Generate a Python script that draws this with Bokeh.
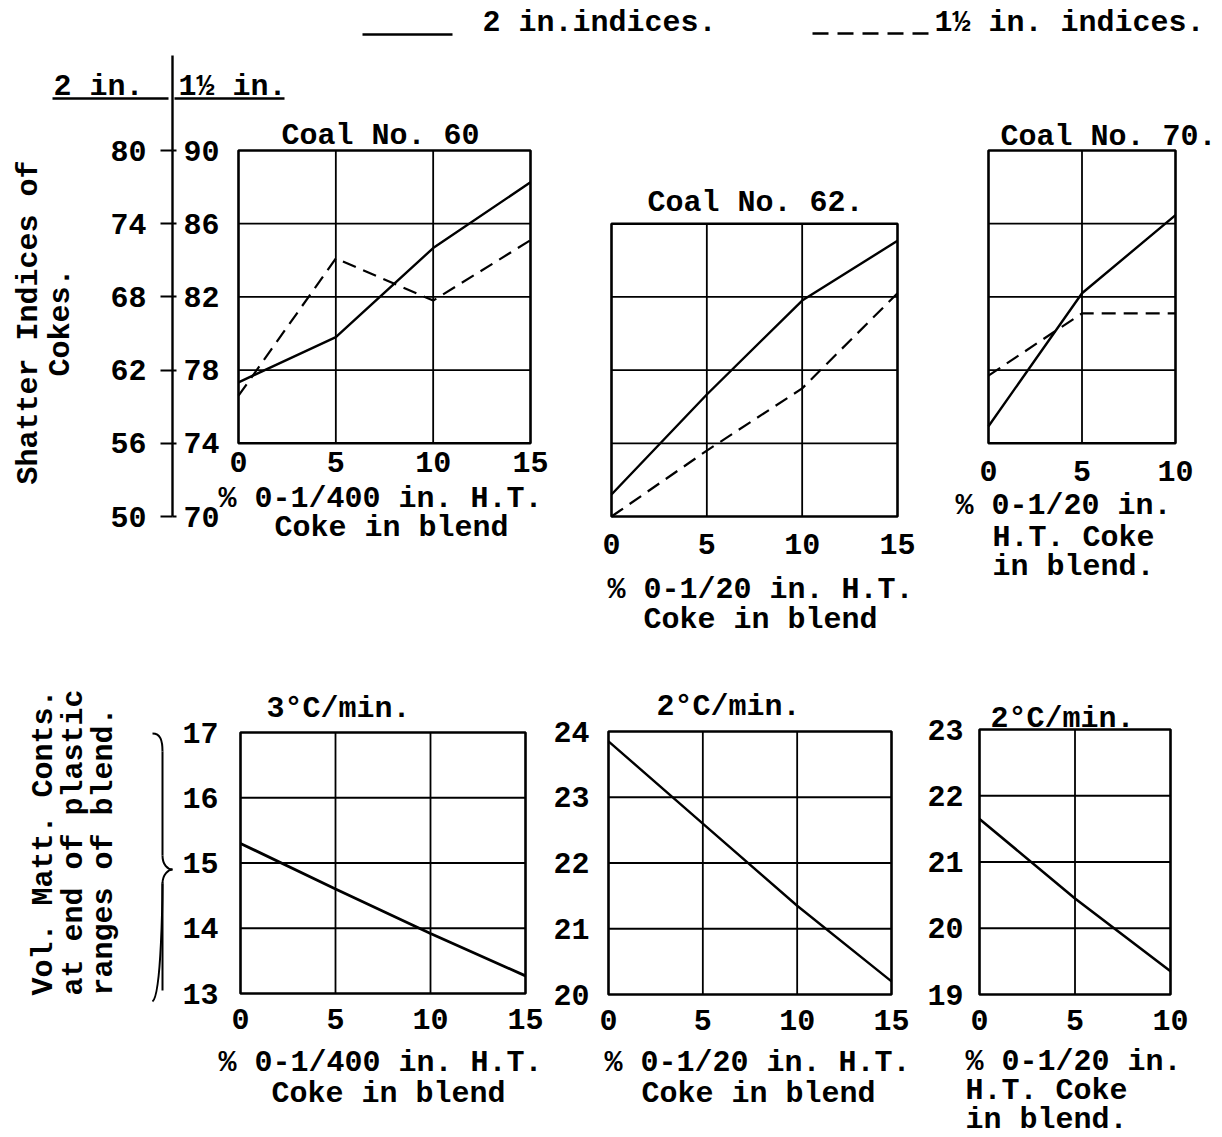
import math

from bokeh.embed import file_html
from bokeh.models import FixedTicker, Label, LinearAxis, Range1d
from bokeh.plotting import figure
from bokeh.resources import INLINE

# ---------------------------------------------------------------- data
# Shatter indices (2 in. and 1 1/2 in.) against % H.T. coke in the blend
coke_pct_60 = [0, 5, 10, 15]
shatter_2in_60 = [61.0, 64.7, 72.0, 77.4]
shatter_15in_60 = [76.6, 84.1, 81.8, 85.1]

coke_pct_62 = [0, 5, 10, 15]
shatter_2in_62 = [51.8, 60.0, 67.7, 72.6]
shatter_15in_62 = [70.0, 73.6, 77.0, 82.2]

coke_pct_70 = [0, 5, 10]
shatter_2in_70 = [57.4, 68.3, 74.7]
shatter_15in_70 = [77.7, 81.1, 81.1]

# Volatile matter contents at the end of the plastic range
vm_pct_60 = [0, 5, 10, 15]
vm_3deg_60 = [15.3, 14.6, 13.92, 13.27]

vm_pct_62 = [0, 5, 10, 15]
vm_2deg_62 = [23.85, 22.6, 21.35, 20.2]

vm_pct_70 = [0, 5, 10]
vm_2deg_70 = [21.65, 20.45, 19.35]

# ticks
ticks_2in = [50, 56, 62, 68, 74, 80]
ticks_15in = [70, 74, 78, 82, 86, 90]
pct_ticks_15 = [0, 5, 10, 15]
pct_ticks_10 = [0, 5, 10]
vm_ticks_60 = [13, 14, 15, 16, 17]
vm_ticks_62 = [20, 21, 22, 23, 24]
vm_ticks_70 = [19, 20, 21, 22, 23]

# ---------------------------------------------------------------- page
W, H = 1222, 1137
FONT = "Liberation Mono"
FS = "30px"
INK = "black"


def x_map(lo, hi, left, right):
    """Range whose [lo, hi] lands on page pixels [left, right]."""
    k = (hi - lo) / (right - left)
    return Range1d(lo - left * k, lo + (W - left) * k)


def y_map(lo, hi, top, bottom):
    """Range whose [lo, hi] lands on page pixels [bottom, top]."""
    k = (hi - lo) / (bottom - top)
    return Range1d(lo - (H - bottom) * k, hi + top * k)


p = figure(width=W, height=H, x_range=Range1d(0, W), y_range=Range1d(H, 0),
           x_axis_location=None, y_axis_location=None, toolbar_location=None,
           output_backend="svg", min_border=0, outline_line_color=None)
p.xgrid.visible = False
p.ygrid.visible = False
p.background_fill_color = "white"
p.border_fill_color = "white"

p.extra_x_ranges = {
    "c60": x_map(0, 15, 238, 530),
    "c62": x_map(0, 15, 611, 897),
    "c70": x_map(0, 10, 988, 1175),
    "v60": x_map(0, 15, 240, 525),
    "v62": x_map(0, 15, 608, 891),
    "v70": x_map(0, 10, 979, 1170),
}
p.extra_y_ranges = {
    "s2": y_map(50, 80, 150, 516),
    "s15": y_map(70, 90, 150, 516),
    "v60": y_map(13, 17, 732, 993),
    "v62": y_map(20, 24, 731, 994),
    "v70": y_map(19, 23, 729, 994),
}


def text(x, y, s, align="left", baseline="middle", angle=0.0, style="bold", size=FS):
    p.add_layout(Label(x=x, y=y, text=s, text_font=FONT, text_font_size=size,
                       text_font_style=style, text_color=INK, text_align=align,
                       text_baseline=baseline, angle=angle))


def axis_style(ax, standoff):
    ax.axis_line_color = None
    ax.major_tick_line_color = None
    ax.minor_tick_line_color = None
    ax.major_label_standoff = standoff
    ax.major_label_text_font = FONT
    ax.major_label_text_font_size = FS
    ax.major_label_text_font_style = "bold"
    ax.major_label_text_color = INK


def panel(xr, yr, x_lo, x_hi, y_lo, y_hi, x_grid, y_grid, x_ticks, x_standoff,
          y_ticks=None, y_standoff=0):
    kw = dict(x_range_name=xr, y_range_name=yr)
    # grid lines inside the box
    p.segment(x0=x_grid, x1=x_grid, y0=[y_lo] * len(x_grid), y1=[y_hi] * len(x_grid),
              line_color=INK, line_width=1.8, **kw)
    p.segment(x0=[x_lo] * len(y_grid), x1=[x_hi] * len(y_grid), y0=y_grid, y1=y_grid,
              line_color=INK, line_width=1.8, **kw)
    # frame of the panel
    p.quad(left=x_lo, right=x_hi, bottom=y_lo, top=y_hi, fill_color=None,
           line_color=INK, line_width=2.6, **kw)
    xa = LinearAxis(ticker=FixedTicker(ticks=x_ticks), fixed_location=y_lo,
                    bounds=(x_lo, x_hi), **kw)
    axis_style(xa, x_standoff)
    p.add_layout(xa, "below")
    if y_ticks is not None:
        ya = LinearAxis(ticker=FixedTicker(ticks=y_ticks), fixed_location=x_lo,
                        bounds=(y_lo, y_hi), **kw)
        axis_style(ya, y_standoff)
        p.add_layout(ya, "left")


DASH = "14 8"

# ---------------------------------------------------------------- key
p.segment(x0=[362], y0=[34], x1=[452], y1=[34], line_color=INK, line_width=2.6)
text(482, 22, "2 in.indices.")
p.segment(x0=[812], y0=[33], x1=[930], y1=[33], line_color=INK, line_width=2.6,
          line_dash="16 9")
text(934, 22, "1\u00bd in. indices.")

# ---------------------------------------------------------------- shared scale
text(98, 86, "2 in.", align="center")
text(178, 86, "1\u00bd in.")
p.segment(x0=[52, 174], y0=[98, 98], x1=[168, 284], y1=[98, 98],
          line_color=INK, line_width=2.4)
p.segment(x0=[172], y0=[55], x1=[172], y1=[150], line_color=INK, line_width=2.4)

ax2 = LinearAxis(y_range_name="s2", ticker=FixedTicker(ticks=ticks_2in),
                 fixed_location=172, bounds=(ticks_2in[0], ticks_2in[-1]))
axis_style(ax2, 14)
ax2.axis_line_color = INK
ax2.axis_line_width = 2.4
ax2.major_tick_line_color = INK
ax2.major_tick_line_width = 2.0
ax2.major_tick_out = 12
ax2.major_tick_in = 0
p.add_layout(ax2, "left")

ax15 = LinearAxis(y_range_name="s15", ticker=FixedTicker(ticks=ticks_15in),
                  fixed_location=172, bounds=(ticks_15in[0], ticks_15in[-1]))
axis_style(ax15, 7)
ax15.major_tick_line_color = INK
ax15.major_tick_line_width = 2.0
ax15.major_tick_out = 4
ax15.major_tick_in = 0
p.add_layout(ax15, "right")

text(28, 322, "Shatter Indices of", align="center", baseline="alphabetic",
     angle=math.pi / 2)
text(60, 322, "Cokes.", align="center", baseline="alphabetic",
     angle=math.pi / 2)

# ---------------------------------------------------------------- Coal No. 60
panel("c60", "s2", 0, 15, ticks_2in[1], ticks_2in[-1], [5, 10], ticks_2in[2:5],
      pct_ticks_15, 3)
p.line(coke_pct_60, shatter_2in_60, x_range_name="c60", y_range_name="s2",
       line_color=INK, line_width=2.4)
p.line(coke_pct_60, shatter_15in_60, x_range_name="c60", y_range_name="s15",
       line_color=INK, line_width=2.2, line_dash=DASH)
text(380, 135, "Coal No. 60", align="center")
text(218, 498, "% 0-1/400 in. H.T.")
text(391, 527, "Coke in blend", align="center")

# ---------------------------------------------------------------- Coal No. 62
panel("c62", "s2", 0, 15, ticks_2in[0], ticks_2in[4], [5, 10], ticks_2in[1:4],
      pct_ticks_15, 11)
p.line(coke_pct_62, shatter_2in_62, x_range_name="c62", y_range_name="s2",
       line_color=INK, line_width=2.4)
p.line(coke_pct_62, shatter_15in_62, x_range_name="c62", y_range_name="s15",
       line_color=INK, line_width=2.2, line_dash=DASH)
text(755, 202, "Coal No. 62.", align="center")
text(760, 589, "% 0-1/20 in. H.T.", align="center")
text(760, 619, "Coke in blend", align="center")

# ---------------------------------------------------------------- Coal No. 70
panel("c70", "s2", 0, 10, ticks_2in[1], ticks_2in[-1], [5], ticks_2in[2:5],
      pct_ticks_10, 12)
p.line(coke_pct_70, shatter_2in_70, x_range_name="c70", y_range_name="s2",
       line_color=INK, line_width=2.4)
p.line(coke_pct_70, shatter_15in_70, x_range_name="c70", y_range_name="s15",
       line_color=INK, line_width=2.2, line_dash=DASH)
text(1000, 136, "Coal No. 70.")
text(955, 505, "% 0-1/20 in.")
text(992, 537, "H.T. Coke")
text(992, 566, "in blend.")

# ---------------------------------------------------------------- volatile matter
text(43, 995, "Vol. Matt. Conts.", baseline="alphabetic", angle=math.pi / 2)
text(73, 995, "at end of plastic", baseline="alphabetic", angle=math.pi / 2)
text(103, 995, "ranges of blend.", baseline="alphabetic", angle=math.pi / 2)

# brace grouping the lower panels' label
p.bezier(x0=[152, 162, 172, 162], y0=[733, 855, 869, 883],
         x1=[162, 172, 162, 152], y1=[751, 869, 883, 1001],
         cx0=[160, 162, 168, 162], cy0=[733, 864, 869, 874],
         cx1=[162, 167, 162, 162], cy1=[740, 869, 874, 994],
         line_color=INK, line_width=2.0)
p.segment(x0=[162, 162], y0=[751, 883], x1=[162, 162], y1=[855, 990],
          line_color=INK, line_width=2.0)

# 3 deg C/min, 0-1/400 in.
panel("v60", "v60", 0, 15, vm_ticks_60[0], vm_ticks_60[-1], [5, 10], vm_ticks_60[1:-1],
      pct_ticks_15, 9, vm_ticks_60, 16)
p.line(vm_pct_60, vm_3deg_60, x_range_name="v60", y_range_name="v60",
       line_color=INK, line_width=2.8)
text(338, 708, "3\u00b0C/min.", align="center")
text(380, 1062, "% 0-1/400 in. H.T.", align="center")
text(388, 1093, "Coke in blend", align="center")

# 2 deg C/min, 0-1/20 in.
panel("v62", "v62", 0, 15, vm_ticks_62[0], vm_ticks_62[-1], [5, 10], vm_ticks_62[1:-1],
      pct_ticks_15, 9, vm_ticks_62, 13)
p.line(vm_pct_62, vm_2deg_62, x_range_name="v62", y_range_name="v62",
       line_color=INK, line_width=2.4)
text(728, 706, "2\u00b0C/min.", align="center")
text(757, 1062, "% 0-1/20 in. H.T.", align="center")
text(758, 1093, "Coke in blend", align="center")

# 2 deg C/min, 0-1/20 in. (Coal No. 70)
panel("v70", "v70", 0, 10, vm_ticks_70[0], vm_ticks_70[-1], [5], vm_ticks_70[1:-1],
      pct_ticks_10, 9, vm_ticks_70, 10)
p.line(vm_pct_70, vm_2deg_70, x_range_name="v70", y_range_name="v70",
       line_color=INK, line_width=2.6)
text(1062, 718, "2\u00b0C/min.", align="center")
text(965, 1061, "% 0-1/20 in.")
text(965, 1090, "H.T. Coke")
text(965, 1119, "in blend.")

open("out.html", "w").write(file_html(p, INLINE))
